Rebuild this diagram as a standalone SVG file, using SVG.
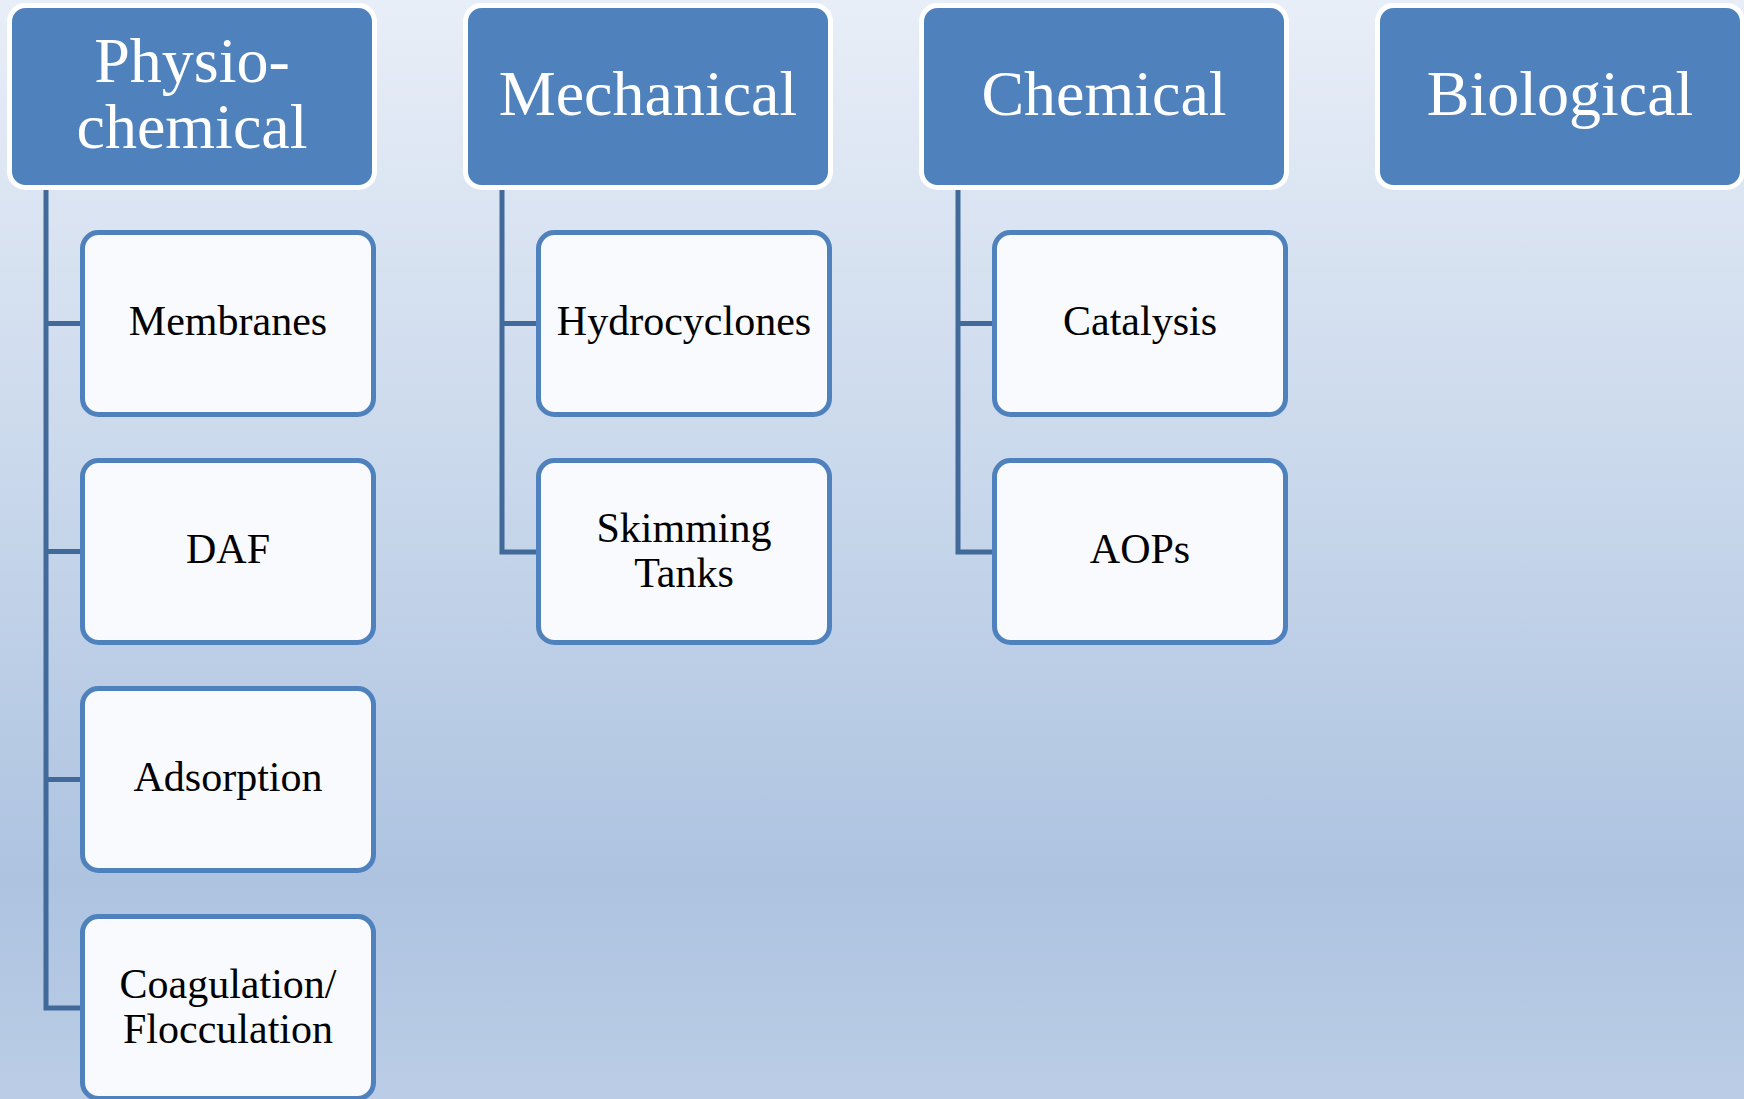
<svg xmlns="http://www.w3.org/2000/svg" width="1744" height="1099" viewBox="0 0 1744 1099">
<defs>
<linearGradient id="bg" x1="0" y1="0" x2="0" y2="1">
<stop offset="0" stop-color="#e8eef7"/>
<stop offset="0.45" stop-color="#c8d7eb"/>
<stop offset="0.8" stop-color="#adc3e0"/>
<stop offset="1" stop-color="#bbcde6"/>
</linearGradient>
<style>
.hd{fill:#4f81bd;stroke:#ffffff;stroke-width:5}
.ch{fill:#f8fafd;stroke:#4f81bd;stroke-width:5}
.ht{font-family:"Liberation Serif","Times New Roman",serif;font-size:64px;fill:#ffffff;text-anchor:middle}
.ct{font-family:"Liberation Serif","Times New Roman",serif;font-size:42px;fill:#000000;text-anchor:middle}
.cn{fill:none;stroke:#41699a;stroke-width:5;stroke-linejoin:miter}
</style>
</defs>
<rect x="0" y="0" width="1744" height="1099" fill="url(#bg)"/>
<g id="connectors">
<path class="cn" d="M46 188 V1008 H82"/>
<path class="cn" d="M46 323.5 H82"/>
<path class="cn" d="M46 551.5 H82"/>
<path class="cn" d="M46 779.5 H82"/>
<path class="cn" d="M502 188 V552 H538"/>
<path class="cn" d="M502 323.5 H538"/>
<path class="cn" d="M958 188 V552 H994"/>
<path class="cn" d="M958 323.5 H994"/>
</g>
<g id="physio">
<rect class="hd" x="9.5" y="5.5" width="365" height="182" rx="16"/>
<text class="ht" x="192" y="82">Physio-</text>
<text class="ht" x="192" y="148">chemical</text>
</g>
<g id="mechanical">
<rect class="hd" x="465.5" y="5.5" width="365" height="182" rx="16"/>
<text class="ht" x="648" y="115">Mechanical</text>
</g>
<g id="chemical">
<rect class="hd" x="921.5" y="5.5" width="365" height="182" rx="16"/>
<text class="ht" x="1104" y="115">Chemical</text>
</g>
<g id="biological">
<rect class="hd" x="1377.5" y="5.5" width="365" height="182" rx="16"/>
<text class="ht" x="1560" y="115">Biological</text>
</g>
<g id="membranes">
<rect class="ch" x="82.5" y="232.5" width="291" height="182" rx="16"/>
<text class="ct" x="228" y="335">Membranes</text>
</g>
<g id="daf">
<rect class="ch" x="82.5" y="460.5" width="291" height="182" rx="16"/>
<text class="ct" x="228" y="563">DAF</text>
</g>
<g id="adsorption">
<rect class="ch" x="82.5" y="688.5" width="291" height="182" rx="16"/>
<text class="ct" x="228" y="791">Adsorption</text>
</g>
<g id="coagulation">
<rect class="ch" x="82.5" y="916.5" width="291" height="182" rx="16"/>
<text class="ct" x="228" y="998">Coagulation/</text>
<text class="ct" x="228" y="1043">Flocculation</text>
</g>
<g id="hydrocyclones">
<rect class="ch" x="538.5" y="232.5" width="291" height="182" rx="16"/>
<text class="ct" x="684" y="335">Hydrocyclones</text>
</g>
<g id="skimming">
<rect class="ch" x="538.5" y="460.5" width="291" height="182" rx="16"/>
<text class="ct" x="684" y="542">Skimming</text>
<text class="ct" x="684" y="587">Tanks</text>
</g>
<g id="catalysis">
<rect class="ch" x="994.5" y="232.5" width="291" height="182" rx="16"/>
<text class="ct" x="1140" y="335">Catalysis</text>
</g>
<g id="aops">
<rect class="ch" x="994.5" y="460.5" width="291" height="182" rx="16"/>
<text class="ct" x="1140" y="563">AOPs</text>
</g>
</svg>
